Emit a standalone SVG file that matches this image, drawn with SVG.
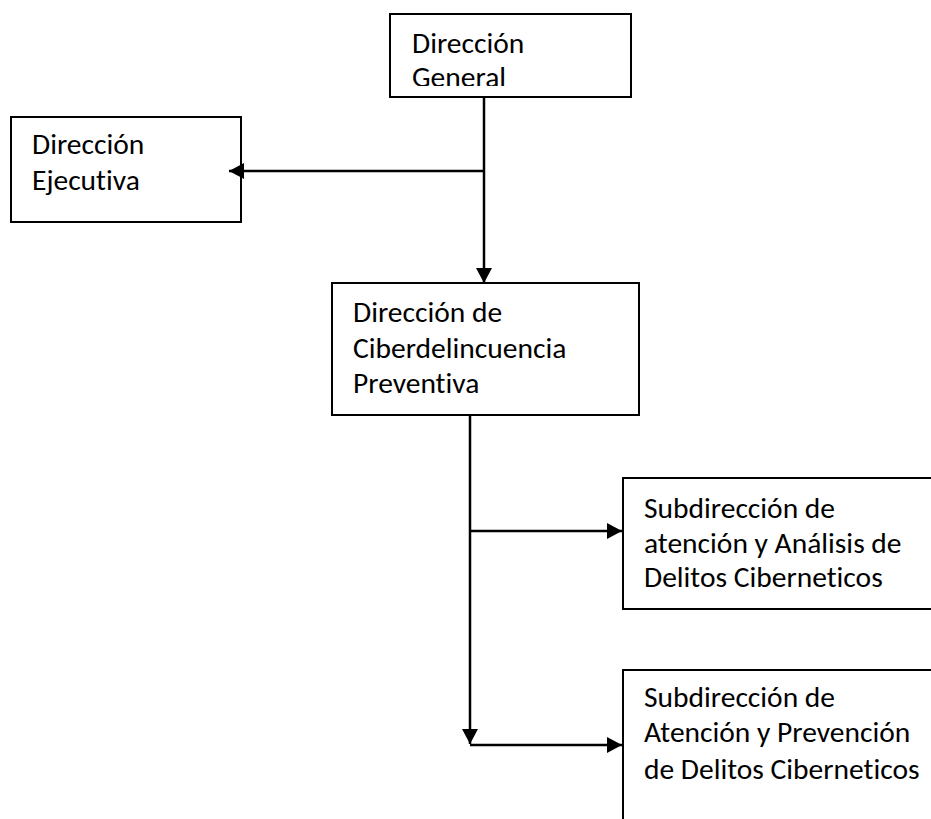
<svg xmlns="http://www.w3.org/2000/svg" width="931" height="819" viewBox="0 0 931 819">
<style>
.box{fill:#fff;stroke:#000;stroke-width:2}
.lbl{font-family:Carlito,Lato,"Liberation Sans",sans-serif;font-size:29.5px;fill:#000;font-variant-ligatures:none;font-feature-settings:"liga" 0}
.con{fill:none;stroke:#000;stroke-width:2.5}
</style>
<defs>
<marker id="ah" markerUnits="userSpaceOnUse" markerWidth="16" markerHeight="16" refX="15" refY="8" orient="auto" viewBox="0 0 16 16">
<path d="M0,0 L15,8 L0,16 z" fill="#000"/>
</marker>
<clipPath id="clipTop"><rect x="391" y="15" width="239" height="71"/></clipPath>
</defs>
<rect width="931" height="819" fill="#fff"/>
<g id="direccion-general">
<rect class="box" x="390" y="14" width="241" height="83"/>
<g clip-path="url(#clipTop)">
<text class="lbl" x="412" y="53">Dirección</text>
<text class="lbl" x="412" y="87">General</text>
</g>
</g>
<g id="direccion-ejecutiva">
<rect class="box" x="11" y="117" width="230" height="105"/>
<text class="lbl" x="32" y="154">Dirección</text>
<text class="lbl" x="32" y="190">Ejecutiva</text>
</g>
<g id="direccion-ciberdelincuencia">
<rect class="box" x="332" y="283" width="307" height="132"/>
<text class="lbl" x="353" y="322">Dirección de</text>
<text class="lbl" x="353" y="358">Ciberdelincuencia</text>
<text class="lbl" x="353" y="393">Preventiva</text>
</g>
<g id="subdireccion-analisis">
<path class="box" d="M940,478 L623,478 L623,609 L940,609"/>
<text class="lbl" x="644" y="518">Subdirección de</text>
<text class="lbl" x="644" y="553">atención y Análisis de</text>
<text class="lbl" x="644" y="587">Delitos Ciberneticos</text>
</g>
<g id="subdireccion-prevencion">
<path class="box" d="M940,670 L623,670 L623,830"/>
<text class="lbl" x="644" y="707">Subdirección de</text>
<text class="lbl" x="644" y="742">Atención y Prevención</text>
<text class="lbl" x="644" y="779">de Delitos Ciberneticos</text>
</g>
<g id="connectors">
<line class="con" x1="484" y1="98" x2="484" y2="283" marker-end="url(#ah)"/>
<line class="con" x1="484" y1="171" x2="229" y2="171" marker-end="url(#ah)"/>
<line class="con" x1="470" y1="416" x2="470" y2="744" marker-end="url(#ah)"/>
<line class="con" x1="470" y1="531" x2="622" y2="531" marker-end="url(#ah)"/>
<line class="con" x1="470" y1="745" x2="622" y2="745" marker-end="url(#ah)"/>
</g>
</svg>
